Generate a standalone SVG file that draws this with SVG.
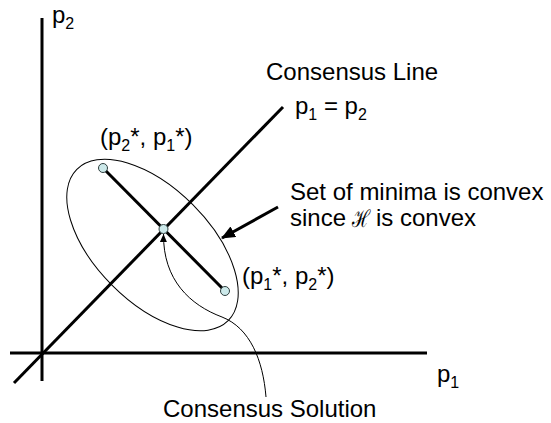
<svg xmlns="http://www.w3.org/2000/svg" width="551" height="423" viewBox="0 0 551 423">
<style>
text{font-family:"Liberation Sans",Arial,sans-serif;font-size:24px;fill:#000}
.sub{font-size:16px}
.thick{stroke:#000;stroke-width:3;fill:none}
.thin{stroke:#000;stroke-width:1;fill:none}
.pt{fill:#cce9ea;stroke:#2f3f3f;stroke-width:1}
</style>
<defs>
<marker id="bigHead" markerUnits="userSpaceOnUse" markerWidth="14" markerHeight="12" refX="13" refY="6" orient="auto" viewBox="0 0 14 12">
<path d="M0,0 L14,6 L0,12 Z" fill="#000"/>
</marker>
<marker id="smallHead" markerUnits="userSpaceOnUse" markerWidth="8" markerHeight="7" refX="8" refY="3.5" orient="auto" viewBox="0 0 8 7">
<path d="M0,0 L8,3.5 L0,7 Z" fill="#000"/>
</marker>
</defs>
<rect width="551" height="423" fill="#fff"/>
<g id="axes">
<line class="thick" x1="42" y1="18" x2="42" y2="381"/>
<line class="thick" x1="10" y1="353" x2="427" y2="353"/>
<text x="52" y="23">p<tspan class="sub" dy="6">2</tspan></text>
<text x="437" y="382">p<tspan class="sub" dy="6">1</tspan></text>
</g>
<g id="consensus-line">
<line class="thick" x1="14" y1="383" x2="283" y2="107"/>
<text x="266" y="80">Consensus Line</text>
<text x="295" y="114">p<tspan class="sub" dy="6">1</tspan><tspan dy="-6"> = p</tspan><tspan class="sub" dy="6">2</tspan></text>
</g>
<g id="minima-set">
<ellipse class="thin" cx="152.5" cy="245" rx="107" ry="57" transform="rotate(45 152.5 245)"/>
<line class="thick" x1="103" y1="168" x2="225" y2="291"/>
</g>
<g id="point-upper">
<circle class="pt" cx="103" cy="168" r="4.5"/>
<text x="100" y="145">(p<tspan class="sub" dy="6">2</tspan><tspan dy="-6">*, p</tspan><tspan class="sub" dy="6">1</tspan><tspan dy="-6">*)</tspan></text>
</g>
<g id="point-lower">
<circle class="pt" cx="225" cy="291" r="4.5"/>
<text x="242" y="284">(p<tspan class="sub" dy="6">1</tspan><tspan dy="-6">*, p</tspan><tspan class="sub" dy="6">2</tspan><tspan dy="-6">*)</tspan></text>
</g>
<g id="consensus-solution">
<circle class="pt" cx="163.5" cy="229" r="4.5"/>
<text x="163" y="417">Consensus Solution</text>
</g>
<g id="convex-note">
<text x="290" y="200">Set of minima is convex</text>
<text x="290" y="226">since</text>
<text x="352" y="227" font-family="'DejaVu Sans',sans-serif" font-size="28" textLength="18" lengthAdjust="spacingAndGlyphs">ℋ</text>
<text x="376" y="226">is convex</text>
</g>
<g id="connectors">
<line class="thick" x1="278" y1="207" x2="222" y2="238" marker-end="url(#bigHead)"/>
<path class="thin" d="M266,397 C263,360 250,328 222,317 C190,305 163,280 163.5,234" marker-end="url(#smallHead)"/>
</g>
</svg>
